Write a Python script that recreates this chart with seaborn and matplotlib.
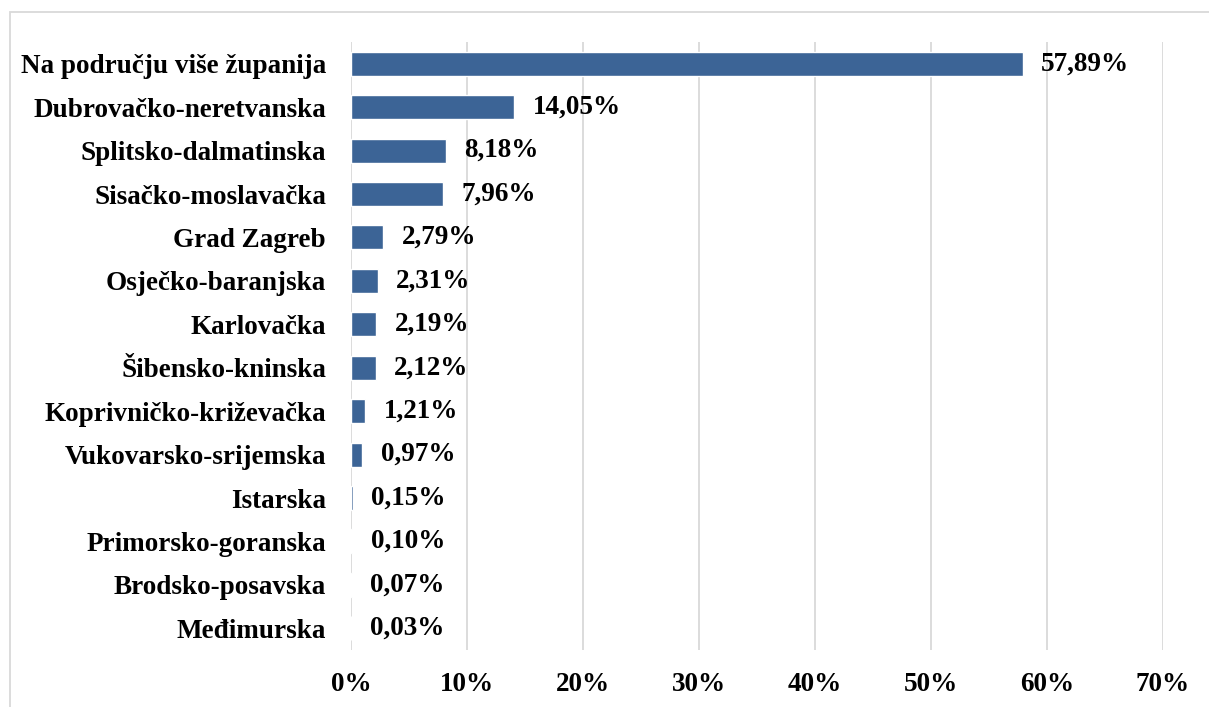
import matplotlib
matplotlib.use("Agg")
import matplotlib.pyplot as plt
import seaborn as sns
import pandas as pd
from matplotlib.patches import Rectangle

counties = ['Na području više županija', 'Dubrovačko-neretvanska', 'Splitsko-dalmatinska',
            'Sisačko-moslavačka', 'Grad Zagreb', 'Osječko-baranjska', 'Karlovačka',
            'Šibensko-kninska', 'Koprivničko-križevačka', 'Vukovarsko-srijemska',
            'Istarska', 'Primorsko-goranska', 'Brodsko-posavska', 'Međimurska']
shares = [57.89, 14.05, 8.18, 7.96, 2.79, 2.31, 2.19, 2.12, 1.21, 0.97, 0.15, 0.10, 0.07, 0.03]
xticks = [0, 10, 20, 30, 40, 50, 60, 70]

df = pd.DataFrame({'county': counties, 'share': shares})

sns.set_style('white')
plt.rcParams['font.family'] = ['Liberation Serif', 'DejaVu Serif']
plt.rcParams['font.weight'] = 'bold'
plt.rcParams['text.color'] = 'black'
plt.rcParams['xtick.color'] = 'black'
plt.rcParams['ytick.color'] = 'black'
fs = 19.5

fig = plt.figure(figsize=(12.09, 7.07), dpi=100)
ax = fig.add_axes([351 / 1209, 1 - 650 / 707, (1163 - 351) / 1209, (650 - 42) / 707])

sns.barplot(data=df, x='share', y='county', color='#3c6496', width=0.55,
            saturation=1, ax=ax, zorder=3)

for i, v in enumerate(shares):
    ax.text(v + 1.6, i, f'{v:.2f}%'.replace('.', ','), va='center', ha='left',
            fontsize=fs, fontweight='bold', color='black', zorder=4)

ax.set_xlim(0, 70)
ax.set_ylim(13.5, -0.5)
ax.set_xticks(xticks)
ax.set_xticklabels([f'{t}%' for t in xticks], fontsize=fs, fontweight='bold')
ax.tick_params(axis='x', pad=16, length=0, labelcolor='black')
ax.tick_params(axis='y', pad=18, length=0, labelsize=fs, labelcolor='black')
for lbl in ax.get_yticklabels():
    lbl.set_fontweight('bold')
ax.xaxis.grid(True, color='#d9d9d9', linewidth=1.3, zorder=0)
ax.set_axisbelow(True)
ax.set_xlabel('')
ax.set_ylabel('')
for s in ax.spines.values():
    s.set_visible(False)

fig.patches.append(Rectangle((10 / 1209, -0.01), 1.0, 1 - 12 / 707 + 0.01,
                             transform=fig.transFigure, fill=False,
                             edgecolor='#d9d9d9', linewidth=1.3))

fig.savefig('out.png', dpi=100)
